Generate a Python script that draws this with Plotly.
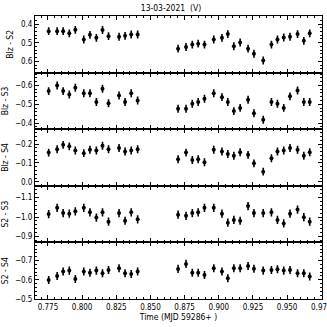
import plotly.graph_objects as go
from plotly.subplots import make_subplots

# time (MJD 59286+)
t = [0.7755, 0.7817, 0.7861, 0.7906, 0.7950, 0.8012, 0.8057, 0.8104, 0.8149, 0.8193,
     0.8270, 0.8314, 0.8359, 0.8406,
     0.8702, 0.8760, 0.8806, 0.8849, 0.8895, 0.8963, 0.9023, 0.9066, 0.9110, 0.9156,
     0.9214, 0.9257, 0.9325, 0.9385, 0.9429, 0.9475, 0.9521, 0.9576, 0.9622, 0.9665]

blz_s2 = [0.438, 0.438, 0.438, 0.450, 0.431, 0.483, 0.458, 0.474, 0.432, 0.465,
          0.468, 0.463, 0.456, 0.456,
          0.532, 0.523, 0.510, 0.505, 0.510, 0.483, 0.474, 0.454, 0.519, 0.499,
          0.532, 0.559, 0.595, 0.510, 0.483, 0.472, 0.468, 0.454, 0.490, 0.450]

blz_s3 = [-0.570, -0.600, -0.570, -0.552, -0.588, -0.559, -0.559, -0.512, -0.582, -0.506,
          -0.547, -0.512, -0.559, -0.520,
          -0.476, -0.476, -0.503, -0.512, -0.529, -0.559, -0.538, -0.512, -0.464, -0.481,
          -0.524, -0.453, -0.418, -0.512, -0.503, -0.481, -0.542, -0.573, -0.512, -0.512]

blz_s4 = [-0.155, -0.173, -0.196, -0.188, -0.166, -0.152, -0.170, -0.166, -0.191, -0.173,
          -0.179, -0.161, -0.166, -0.173,
          -0.120, -0.155, -0.116, -0.120, -0.104, -0.170, -0.161, -0.148, -0.138, -0.157,
          -0.143, -0.098, -0.054, -0.125, -0.161, -0.166, -0.179, -0.170, -0.138, -0.157]

s2_s3 = [-1.015, -1.047, -1.020, -1.017, -1.029, -1.047, -1.024, -0.997, -1.024, -0.976,
         -1.020, -0.981, -1.024, -0.988,
         -1.012, -1.006, -1.020, -1.024, -1.047, -1.047, -1.017, -0.971, -0.985, -0.981,
         -1.056, -1.020, -1.020, -1.024, -0.985, -0.967, -1.017, -1.038, -0.999, -0.976]

s2_s4 = [-0.599, -0.620, -0.643, -0.648, -0.604, -0.643, -0.637, -0.648, -0.634, -0.651,
         -0.660, -0.634, -0.630, -0.643,
         -0.657, -0.683, -0.637, -0.637, -0.625, -0.660, -0.643, -0.608, -0.660, -0.660,
         -0.672, -0.658, -0.648, -0.651, -0.655, -0.648, -0.651, -0.634, -0.634, -0.617]

err = [0.021] * len(t)

series = [blz_s2, blz_s3, blz_s4, s2_s3, s2_s4]
names = ["Blz - S2", "Blz - S3", "Blz - S4", "S2 - S3", "S2 - S4"]
yranges = [[0.66, 0.357], [-0.368, -0.668], [0.021, -0.279], [-0.87, -1.16], [-0.5, -0.795]]
ytick0 = [0.4, -0.6, -0.2, -1.1, -0.7]

FONT = "DejaVu Sans Condensed, Liberation Sans Narrow, sans-serif"

fig = make_subplots(rows=5, cols=1, shared_xaxes=True, vertical_spacing=0)

for i, (y, nm) in enumerate(zip(series, names)):
    r = i + 1
    fig.add_trace(go.Scatter(x=t, y=y, mode="markers",
                             marker=dict(color="black", size=4),
                             error_y=dict(type="data", array=err, color="black",
                                          thickness=1.6, width=0),
                             showlegend=False), row=r, col=1)
    fig.update_yaxes(range=yranges[i], tick0=ytick0[i], dtick=0.1,
                     tickformat=".1f",
                     title=dict(text=nm, font=dict(size=8.5), standoff=5),
                     row=r, col=1)

fig.update_xaxes(range=[0.7655, 0.9755], dtick=0.025, tick0=0.775, tickformat=".3f",
                 ticks="inside", ticklen=4, tickcolor="black", mirror="allticks",
                 showline=True, linecolor="black", linewidth=1, showgrid=False,
                 zeroline=False, automargin=False, ticklabeloverflow="allow",
                 minor=dict(dtick=0.005, ticks="inside", ticklen=2, tickcolor="black"))
fig.update_yaxes(ticks="inside", ticklen=4, tickcolor="black", mirror="allticks",
                 showline=True, linecolor="black", linewidth=1, showgrid=False,
                 zeroline=False, automargin=False,
                 minor=dict(dtick=0.02, ticks="inside", ticklen=2, tickcolor="black"))
fig.update_xaxes(title=dict(text="Time (MJD 59286+ )", font=dict(size=8.5), standoff=2),
                 row=5, col=1)

fig.update_layout(
    width=327, height=327,
    margin=dict(l=35, r=5, t=16, b=28),
    paper_bgcolor="white", plot_bgcolor="white",
    font=dict(family=FONT, size=8, color="black"),
    title=dict(text="13-03-2021  (V)", x=0.523, xanchor="center", y=0.985,
               yanchor="top", font=dict(size=8.5)),
)

# page body has a default margin, drop it so the 327px figure fits the window
fig.write_html("out.html", config={"displayModeBar": False},
               post_script="document.body.style.margin='0';")
